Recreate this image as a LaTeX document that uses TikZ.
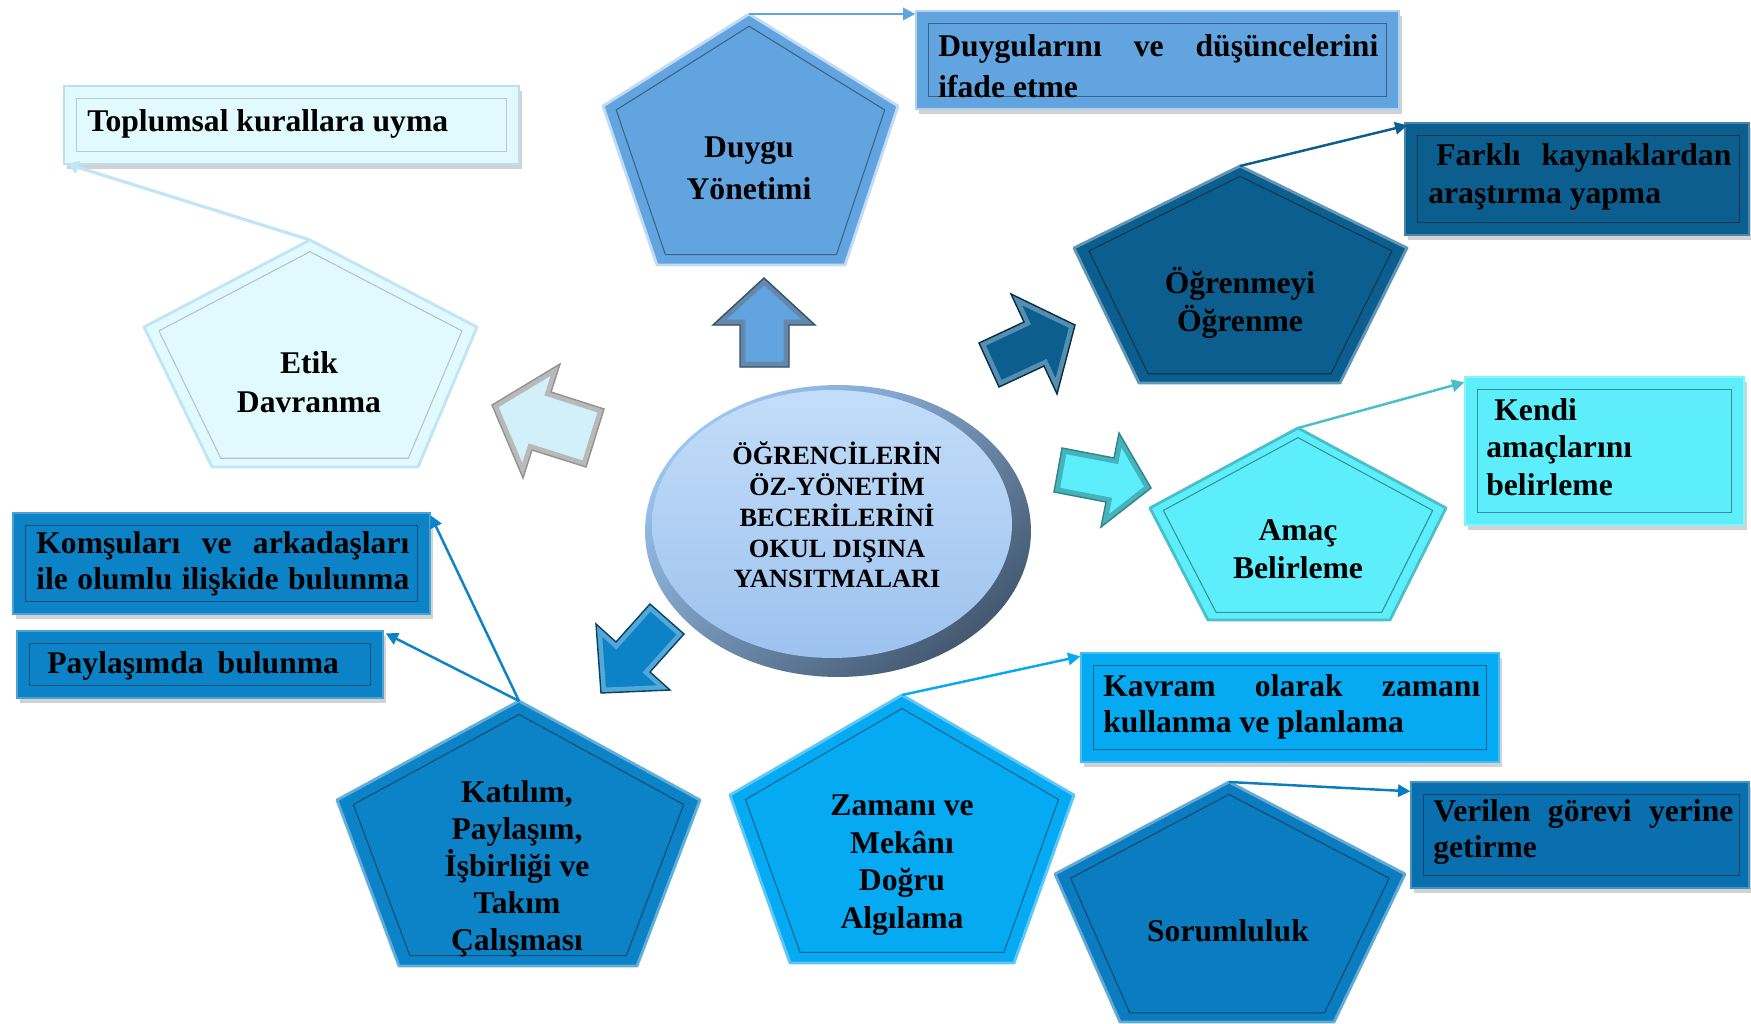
\documentclass[tikz,border=0pt]{standalone}
\usepackage{fontspec}
\setmainfont{Liberation Serif}
\usetikzlibrary{arrows.meta,calc,shapes.geometric,shadows}
\newlength\pxu
\setlength\pxu{0.02cm}
\definecolor{cdy}{HTML}{62A4E0}
\definecolor{cog}{HTML}{0B5E8E}
\definecolor{cet}{HTML}{E1FAFE}
\definecolor{cam}{HTML}{5CEFFB}
\definecolor{ckt}{HTML}{0B83C6}
\definecolor{czm}{HTML}{06AAF2}
\definecolor{csr}{HTML}{0A7CBF}
\definecolor{cvg}{HTML}{0A6FAF}
\definecolor{cslate}{HTML}{445870}
\definecolor{crimlt}{HTML}{9CC6F2}
\definecolor{cintop}{HTML}{C3DDF9}
\definecolor{cinbot}{HTML}{9DC2EE}
\newcommand\tfont[1]{\fontsize{18}{#1}\selectfont\bfseries}
\tikzset{
 ptxt/.style={font=\tfont{22}, align=center, inner sep=0pt, text=black},
 btxt/.style={font=\tfont{23}, align=left, anchor=west, inner sep=0pt, text=black},
 ctxt/.style={font=\fontsize{15}{17.5}\selectfont\bfseries, align=center, inner sep=0pt, text=black},
 boxnode/.style={rectangle, fill=#1, draw=#1!75!white, line width=0.8pt, inner sep=0pt,
   drop shadow={opacity=0.35, shadow xshift=1.5pt, shadow yshift=-3pt}},
 boxframe/.style={draw=#1, line width=0.7pt},
 pentout/.style={fill=#1, draw=#1!65!white, line width=1.6pt, line join=round},
 pentin/.style={draw=#1, line width=0.6pt, line join=round},
 conn/.style={draw=#1, line width=1.4pt, -{Triangle[length=7pt,width=7pt]}},
}
\newcommand\mkpent[9]{%
 \coordinate (#1-1) at (#2);
 \coordinate (#1-2) at (#3);
 \coordinate (#1-3) at (#4);
 \coordinate (#1-4) at (#5);
 \coordinate (#1-5) at (#6);
 \coordinate (#1-c) at (#7);
 \draw[#8] (#1-1)--(#1-2)--(#1-3)--(#1-4)--(#1-5)--cycle;
 \draw[#9] ($(#1-c)!0.91!(#1-1)$)--($(#1-c)!0.91!(#1-2)$)--($(#1-c)!0.91!(#1-3)$)--($(#1-c)!0.91!(#1-4)$)--($(#1-c)!0.91!(#1-5)$)--cycle;
}
% block arrow with bevel band: #1 fill, #2 band colour, #3 edge colour, #4 path
\newcommand\barrow[4]{%
 \fill[#1] #4;
 \begin{scope}
  \clip #4;
  \draw[#2, line width=6pt, line join=miter] #4;
 \end{scope}
 \draw[#3, line width=0.8pt, line join=miter] #4;
}
\begin{document}
\begin{tikzpicture}[x=0.02cm, y=-0.02cm]
\fill[white] (0,0) rectangle (1751,1024);
\useasboundingbox (0,0) rectangle (1751,1024);

% ---------- boxes ----------
\node[boxnode=cet, draw=cet!70!cdy, minimum width=9.10cm, minimum height=1.56cm] (bA) at (291.5,125) {};
\node[boxnode=cdy, draw=cdy!50!white, minimum width=9.66cm, minimum height=1.96cm] (bB) at (1157.5,60) {};
\node[boxnode=cog, minimum width=6.88cm, minimum height=2.24cm] (bC) at (1577,179) {};
\node[boxnode=cam, minimum width=5.58cm, minimum height=2.96cm] (bD) at (1604.5,451) {};
\node[boxnode=ckt, minimum width=8.34cm, minimum height=2.02cm] (bE) at (221.5,563.5) {};
\node[boxnode=ckt, minimum width=7.32cm, minimum height=1.34cm] (bF) at (200,664.5) {};
\node[boxnode=czm, minimum width=8.36cm, minimum height=2.18cm] (bG) at (1290,707.5) {};
\node[boxnode=cvg, minimum width=6.76cm, minimum height=2.12cm] (bH) at (1580,835) {};

\draw[boxframe=cet!60!gray] ([shift={(13,13)}]bA.north west) rectangle ([shift={(-13,-13)}]bA.south east);
\draw[boxframe=cdy!60!black] ([shift={(13,13)}]bB.north west) rectangle ([shift={(-13,-13)}]bB.south east);
\draw[boxframe=cog!60!black] ([shift={(13,13)}]bC.north west) rectangle ([shift={(-10,-13)}]bC.south east);
\draw[boxframe=cam!60!black] ([shift={(13,13)}]bD.north west) rectangle ([shift={(-13,-13)}]bD.south east);
\draw[boxframe=ckt!60!black] ([shift={(13,13)}]bE.north west) rectangle ([shift={(-13,-13)}]bE.south east);
\draw[boxframe=ckt!60!black] ([shift={(13,13)}]bF.north west) rectangle ([shift={(-13,-13)}]bF.south east);
\draw[boxframe=czm!60!black] ([shift={(13,13)}]bG.north west) rectangle ([shift={(-13,-13)}]bG.south east);
\draw[boxframe=cvg!60!black] ([shift={(13,13)}]bH.north west) rectangle ([shift={(-10,-13)}]bH.south east);

\node[btxt] (tA) at (87,124) {Toplumsal kurallara uyma};
\node[btxt] (tB) at (938,66) {\hbox to 440\pxu{Duygularını\hfill ve\hfill düşüncelerini}\\ifade etme};
\node[btxt, font=\tfont{21.5}] (tC) at (1428,177) {\hbox to 303\pxu{\kern8\pxu Farklı\hfill kaynaklardan}\\araştırma yapma};
\node[btxt, font=\tfont{21.3}] (tD) at (1486,447) {\kern8\pxu Kendi\\amaçlarını\\belirleme};
\node[btxt, font=\tfont{20.5}] (tE) at (36,564) {\hbox to 373\pxu{Komşuları\hfill ve\hfill arkadaşları}\\\hbox to 373\pxu{ile\hfill olumlu\hfill ilişkide\hfill bulunma}};
\node[btxt] (tF) at (47,666) {Paylaşımda\hspace{14\pxu}bulunma};
\node[btxt, font=\tfont{20.5}] (tG) at (1103,707) {\hbox to 377\pxu{Kavram\hfill olarak\hfill zamanı}\\kullanma ve planlama};
\node[btxt, font=\tfont{20.5}] (tH) at (1433,832) {\hbox to 300\pxu{Verilen\hfill görevi\hfill yerine}\\getirme};

% ---------- pentagons ----------
\mkpent{dy}{749,14}{898,106}{845,265}{657,265}{603,106}{750,150}{pentout=cdy, draw=cdy!40!white}{pentin=cdy!60!black}
\mkpent{og}{1240,166}{1407,248}{1340,383}{1139,383}{1074,248}{1240,280}{pentout=cog}{pentin=cog!60!black}
\mkpent{et}{310,240}{477,327}{418,467}{212,467}{144,327}{310,370}{pentout=cet, draw=cet!75!cdy}{pentin=cet!55!gray}
\mkpent{am}{1298,428}{1446,508}{1390,620}{1208,620}{1150,508}{1298,535}{pentout=cam, draw=cam!80!black}{pentin=cam!60!black}
\mkpent{kt}{519,701}{700,800}{637,966}{399,966}{337,800}{519,850}{pentout=ckt}{pentin=ckt!60!black}
\mkpent{zm}{902,695}{1074,795}{1014,963}{790,963}{730,795}{902,845}{pentout=czm}{pentin=czm!60!black}
\mkpent{sr}{1229,782}{1405,874}{1334,1022}{1120,1022}{1055,874}{1229,920}{pentout=csr}{pentin=csr!60!black}

\node[ptxt, font=\tfont{24}] (dyt) at (749,168) {Duygu\\Yönetimi};
\node[ptxt] (ogt) at (1240,303) {Öğrenmeyi\\Öğrenme};
\node[ptxt] (ett) at (309,382) {Etik\\Davranma};
\node[ptxt, font=\tfont{21.5}] (amt) at (1298,549) {Amaç\\Belirleme};
\node[ptxt, font=\tfont{21}] (ktt) at (517,869) {Katılım,\\Paylaşım,\\İşbirliği ve\\Takım\\Çalışması};
\node[ptxt, font=\tfont{21.3}] (zmt) at (902,865) {Zamanı ve\\Mekânı\\Doğru\\Algılama};
\node[ptxt] (srt) at (1228,931) {Sorumluluk};

% ---------- connectors ----------
\draw[conn=cdy] (dy-1) -- (dy-1 -| bB.west);
\draw[conn=cog] (og-1) -- ([shift={(3,3)}]bC.north west);
\draw[conn=cet!75!cdy, line width=1.8pt] (et-1) -- ([shift={(3,-1)}]bA.south west);
\draw[conn=cam!80!black] (am-1) -- ([shift={(0,6)}]bD.north west);
\draw[conn=ckt] (kt-1) -- ([shift={(0,3)}]bE.north east);
\draw[conn=ckt] (kt-1) -- ([shift={(2,3)}]bF.north east);
\draw[conn=czm] (zm-1) -- ([shift={(0,4)}]bG.north west);
\draw[conn=csr] (sr-1) -- ([shift={(0,10)}]bH.north west);

% ---------- block arrows ----------
\barrow{cdy}{cdy!65!black!80!white}{cdy!50!black}{(764,278) -- (815,325) -- (789,325) -- (789,367) -- (740,367) -- (740,325) -- (713,325) -- cycle}
\barrow{cog}{cog!70!white}{cog!50!black}{(1075,325) -- (1057,394) -- (1044,366) -- (999,387) -- (979,343) -- (1024,322) -- (1011,294) -- cycle}
\barrow{cam}{cam!75!black}{cam!55!black}{(1151,488) -- (1101,527) -- (1106,502) -- (1054,492) -- (1062,448) -- (1114,458) -- (1119,433) -- cycle}
\barrow{cet!88!cdy}{gray!55}{gray!85}{(492,405) -- (560,364) -- (551,392) -- (604,409) -- (586,467) -- (532,450) -- (523,478) -- cycle}
\barrow{ckt}{ckt!70!white}{ckt!50!black}{(601,693) -- (596,624) -- (616,642) -- (650,604) -- (684,634) -- (650,672) -- (670,690) -- cycle}

% ---------- central ellipse ----------
\node[ellipse, minimum width=7.72cm, minimum height=5.84cm, inner sep=0pt, top color=crimlt, bottom color=cslate, shading angle=40] (rim) at (838,531) {};
\node[ellipse, minimum width=7.2cm, minimum height=5.36cm, inner sep=0pt, top color=cintop, bottom color=cinbot] (core) at (832,524) {};
\node[ctxt] (ctext) at (837,515) {ÖĞRENCİLERİN\\ÖZ-YÖNETİM\\BECERİLERİNİ\\OKUL DIŞINA\\YANSITMALARI};
\end{tikzpicture}
\end{document}
